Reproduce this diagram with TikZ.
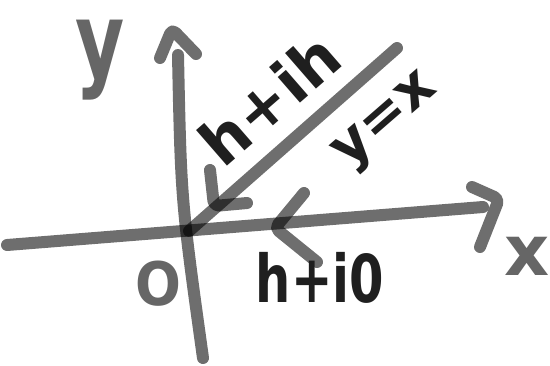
\documentclass[tikz,border=0pt]{standalone}
\usepackage{fontspec}
\setmainfont{DejaVu Sans}
\usepackage{tikz}
\usetikzlibrary{calc,positioning}
\tikzset{
  pen/.style={line width=12pt,line cap=round,line join=round,draw=black,draw opacity=0.57},
  tip/.style={pen,rounded corners=5pt},
  ink/.style={inner sep=0pt,text=black!88,font=\bfseries\fontsize{#1}{#1}\selectfont},
  chalk/.style={inner sep=0pt,text=black!60,font=\bfseries\fontsize{#1}{#1}\selectfont}
}

\begin{document}
\begin{tikzpicture}[x=1pt,y=-1pt]
\useasboundingbox (0,0) rectangle (550,365);
\coordinate (o) at (189,231);
\coordinate (xl) at (7,245);
\coordinate (xr) at (483,207);
\coordinate (yt) at (178,55);
\coordinate (yb) at (203,358);
\coordinate (d) at (397,48);
\coordinate (tx) at (499,199);
\coordinate (ty) at (172,29);
\coordinate (td) at (214,206);
\coordinate (th) at (275,228);
\draw[pen] (xl) to (xr);
\draw[pen] (yt) .. controls (181,200) .. (yb);
\draw[pen] (o) to (d);
\draw[tip] ($(tx)+(-27,-12)$) -- (tx) -- ($(tx)+(-19,48)$);
\draw[tip] ($(ty)+(-12,29)$) -- (ty) -- ($(ty)+(24,25)$);
\draw[tip] ($(td)+(-4,-36)$) -- (td) -- ($(td)+(33,-3)$);
\draw[tip] ($(th)+(29,-35)$) -- (th) -- ($(th)+(42,34)$);
\node[chalk=105,xscale=.72,transform shape] (ly) at (100,60) {y};
\node[chalk=70] (lx) at (527,256) {x};
\node[chalk=60,xscale=.9,transform shape] (lo) at (158,284) {O};
\node[ink=62,rotate=41] (hih) at (269,99) {h+ih};
\node[ink=56,rotate=41] (yx) at (388,123) {y=x};
\node[ink=66,xscale=.75,transform shape] (hio) at (320,278) {h+i0};
\end{tikzpicture}
\end{document}
